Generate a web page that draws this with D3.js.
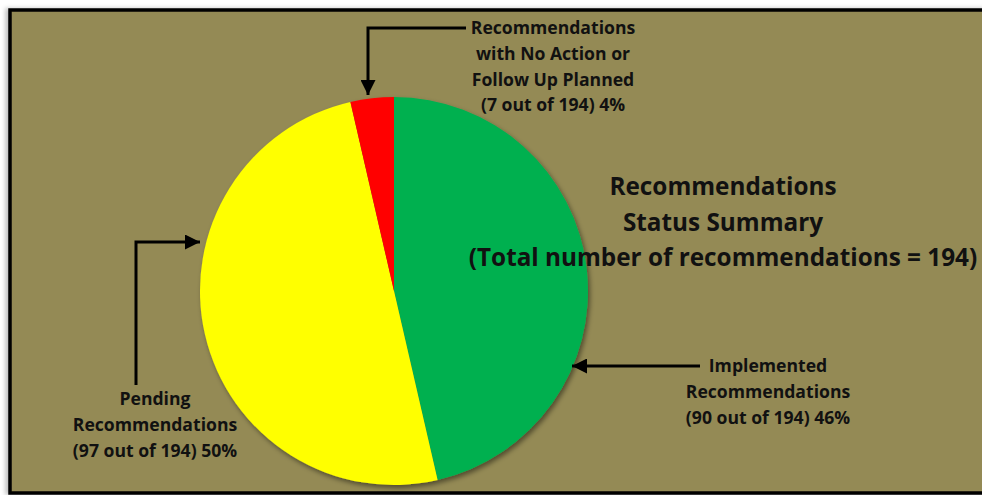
<!DOCTYPE html>
<html>
<head>
<meta charset="utf-8">
<script src="https://cdn.jsdelivr.net/npm/d3@7"></script>
<style>
  html, body { margin: 0; padding: 0; background: #fff; }
  svg { display: block; }
  text { font-family: "Open Sans", sans-serif; font-weight: bold; fill: #111; }
</style>
</head>
<body>
<div id="chart"></div>
<script>
// data
const categories = ['Implemented', 'Pending', 'No Action or Follow Up Planned'];
const counts = [90, 97, 7];
const sliceColors = ['#00B050', '#FFFF00', '#FF0000'];
const total = 194;
const titleLines = ['Recommendations', 'Status Summary', `(Total number of recommendations = ${total})`];
const labelLines = [
  ['Implemented', 'Recommendations', '(90 out of 194) 46%'],
  ['Pending', 'Recommendations', '(97 out of 194) 50%'],
  ['Recommendations', 'with No Action or', 'Follow Up Planned', '(7 out of 194) 4%']
];

const width = 982;
const height = 495;
const cx = 394, cy = 291, radius = 194;

const svg = d3.select('#chart').append('svg')
  .attr('width', width)
  .attr('height', height);

const defs = svg.append('defs');

// soft shadow like the office chart
const shadow = defs.append('filter').attr('id', 'shadow')
  .attr('x', '-10%').attr('y', '-10%').attr('width', '120%').attr('height', '120%');
shadow.append('feDropShadow')
  .attr('dx', 2).attr('dy', 3).attr('stdDeviation', 2.5)
  .attr('flood-color', '#000').attr('flood-opacity', 0.45);

const frameShadow = defs.append('filter').attr('id', 'frameShadow')
  .attr('x', '-5%').attr('y', '-5%').attr('width', '110%').attr('height', '110%');
frameShadow.append('feDropShadow')
  .attr('dx', -3).attr('dy', 0).attr('stdDeviation', 2)
  .attr('flood-color', '#000').attr('flood-opacity', 0.25);

defs.append('marker')
  .attr('id', 'arrow')
  .attr('viewBox', '0 0 10 10')
  .attr('refX', 10).attr('refY', 5)
  .attr('markerWidth', 5).attr('markerHeight', 5)
  .attr('markerUnits', 'strokeWidth')
  .attr('orient', 'auto')
  .append('path')
  .attr('d', 'M0,0 L10,5 L0,10 Z')
  .attr('fill', '#000');

// frame
svg.append('rect')
  .attr('x', 10).attr('y', 10)
  .attr('width', 990).attr('height', 483)
  .attr('fill', '#948A54')
  .attr('stroke', '#000')
  .attr('stroke-width', 3.5)
  .attr('filter', 'url(#frameShadow)');

// pie
const pie = d3.pie().sort(null).value(d => d);
const arc = d3.arc().innerRadius(0).outerRadius(radius);

const g = svg.append('g')
  .attr('transform', `translate(${cx},${cy})`)
  .attr('filter', 'url(#shadow)');

g.selectAll('path')
  .data(pie(counts))
  .join('path')
  .attr('d', arc)
  .attr('fill', (d, i) => sliceColors[i]);

// title
svg.append('text')
  .attr('text-anchor', 'middle')
  .style('font-size', '24.3px')
  .selectAll('tspan')
  .data(titleLines)
  .join('tspan')
  .attr('x', 723)
  .attr('y', (d, i) => 195 + i * 35.5)
  .text(d => d);

// callouts: elbow line with arrow head, then a text block
const callouts = [
  { pts: [[700, 366], [572, 366]], tx: 768, ty: 372 },
  { pts: [[136, 385], [136, 242], [200, 242]], tx: 155, ty: 405 },
  { pts: [[466, 28], [368, 28], [368, 95]], tx: 553, ty: 34 }
];

const line = d3.line();
callouts.forEach((c, i) => {
  svg.append('path')
    .attr('d', line(c.pts))
    .attr('fill', 'none')
    .attr('stroke', '#000')
    .attr('stroke-width', 3)
    .attr('marker-end', 'url(#arrow)');

  svg.append('text')
    .attr('text-anchor', 'middle')
    .style('font-size', '17.6px')
    .selectAll('tspan')
    .data(labelLines[i])
    .join('tspan')
    .attr('x', c.tx)
    .attr('y', (d, j) => c.ty + j * 25.8)
    .text(d => d);
});
</script>
</body>
</html>
